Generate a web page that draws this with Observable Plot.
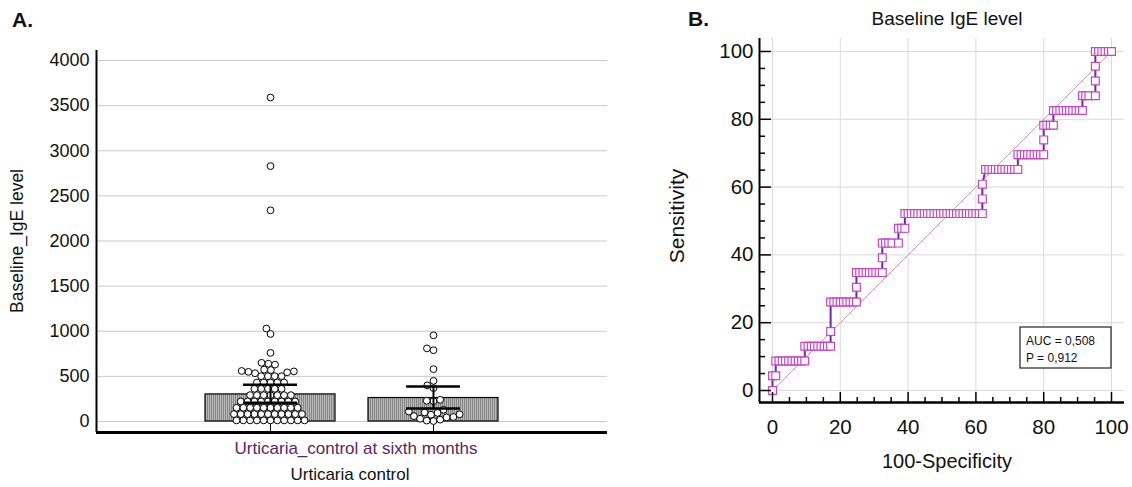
<!DOCTYPE html>
<html>
<head>
<meta charset="utf-8">
<script src="https://cdn.jsdelivr.net/npm/d3@7"></script>
<script src="https://cdn.jsdelivr.net/npm/@observablehq/plot@0.6"></script>
<style>
html,body{margin:0;padding:0;background:#fff;}
#wrap{position:relative;width:1132px;height:487px;overflow:hidden;background:#fff;}
#wrap svg{position:absolute;top:0;}
</style>
</head>
<body>
<div id="wrap"></div>
<script>
// ---------- Panel A data ----------
const groupsA = ["Controlled", "Uncontrolled"];
const igeGroup1 = [
  12, 12, 12, 12, 12, 12, 12, 12, 12, 12, 12,
  82, 82, 82, 82, 82, 82, 82, 82, 82, 82, 82,
  152, 152, 152, 152, 152, 152, 152, 152, 152, 152,
  222, 222, 222, 222, 222, 222, 222, 222, 222,
  292, 292, 292, 292, 292, 292, 292,
  362, 362, 362, 362, 362,
  432, 432, 432, 432, 432,
  502, 502, 502, 502,
  535, 545, 550, 555, 560, 570, 575,
  630, 640, 650,
  760, 970, 1030, 2340, 2830, 3590];
const igeGroup2 = [5, 10, 20, 30, 45, 50, 60, 75, 80, 95, 100, 110, 130, 225, 230, 240, 370, 400, 450, 580, 790, 810, 955];
const barMean = [300, 260];
const ciLow = [208, 145];
const ciHigh = [408, 388];
const yTicksA = [0, 500, 1000, 1500, 2000, 2500, 3000, 3500, 4000];

// ---------- Panel B data (ROC: false-positive counts per sensitivity level) ----------
const nNeg = 105, nPos = 23;
const rocTP = [0, 1, 2, 3, 4, 6, 7, 8, 9, 10, 11, 12, 13, 14, 15, 16, 17, 18, 19, 20, 21, 22, 23];
const rocFP = [
  [0],
  [0, 1],
  [1, 2, 3, 4, 5, 6, 7, 8, 9, 10],
  [10, 11, 12, 13, 14, 15, 16, 17, 18],
  [18],
  [18, 19, 20, 21, 22, 23, 24, 25, 26],
  [26],
  [26, 27, 28, 29, 30, 31, 32, 33, 34],
  [34],
  [34, 35, 36, 37, 39],
  [39, 40, 41],
  [41, 42, 43, 44, 45, 46, 47, 48, 49, 50, 51, 52, 53, 54, 55, 56, 57, 58, 59, 60, 61, 62, 63, 64, 65],
  [65],
  [65],
  [66, 67, 68, 69, 70, 71, 72, 73, 74, 75, 76],
  [76, 77, 78, 79, 80, 81, 82, 83, 84],
  [84],
  [84, 85, 86, 87],
  [87, 88, 89, 90, 91, 92, 93, 94, 95, 96],
  [96, 97, 98, 100],
  [100],
  [100],
  [100, 101, 102, 103, 104, 105]
];
const rocTicks = [0, 20, 40, 60, 80, 100];
const rocMinor = [5, 10, 15, 25, 30, 35, 45, 50, 55, 65, 70, 75, 85, 90, 95];
const chanceLine = [0, 100];
const aucLines = ["AUC = 0,508", "P = 0,912"];

// ---------- layout ----------
const H = 487;
const fontFam = "'Liberation Sans', Arial, Helvetica, sans-serif";
const W_A = 620;
const mA = {top: 50, right: 13, bottom: 55, left: 96};
const yDomA = [-122, 4111];

const dotsA = [
  ...igeGroup1.map(v => ({group: groupsA[0], value: v})),
  ...igeGroup2.map(v => ({group: groupsA[1], value: v}))
];
const barsA = groupsA.map((g, i) => ({group: g, mean: barMean[i], lo: ciLow[i], hi: ciHigh[i]}));

const wrap = document.getElementById("wrap");

const baseA = Plot.plot({
  width: W_A, height: H,
  marginTop: mA.top, marginRight: mA.right, marginBottom: mA.bottom, marginLeft: mA.left,
  style: {background: "transparent", fontFamily: fontFam, color: "black"},
  x: {domain: [0, 1], axis: null},
  y: {domain: yDomA},
  marks: [
    Plot.ruleY(yTicksA, {stroke: "#c9c9c9", strokeWidth: 1}),
    Plot.axisY({ticks: yTicksA, tickSize: 0, tickPadding: 7, fontSize: 18, label: null, tickFormat: d => String(d), fill: "#111"}),
    Plot.ruleX([0], {stroke: "black", strokeWidth: 2})
  ]
});
baseA.style.left = "0px";
wrap.appendChild(baseA);

const fgA = Plot.plot({
  width: W_A, height: H,
  marginTop: mA.top, marginRight: mA.right, marginBottom: mA.bottom, marginLeft: mA.left,
  style: {background: "transparent", fontFamily: fontFam, color: "black"},
  fx: {domain: groupsA, paddingInner: 0.2, paddingOuter: 0.66, axis: null, label: null},
  y: {domain: yDomA, axis: null},
  marks: [
    Plot.barY(barsA, {fx: "group", y: "mean", fill: "url(#hatchA)", stroke: "black", strokeWidth: 1.2}),
    Plot.ruleX(barsA, {fx: "group", x: null, y1: yDomA[0], y2: 0, stroke: "black", strokeWidth: 1}),
    Plot.dot(dotsA, Plot.dodgeX({anchor: "middle", padding: 0}, {fx: "group", y: "value", r: 3.4, fill: "white", stroke: "black", strokeWidth: 1})),
    Plot.ruleX(barsA, {fx: "group", x: null, y1: "lo", y2: "hi", stroke: "black", strokeWidth: 2}),
    Plot.tickY(barsA, {fx: "group", y: "hi", stroke: "black", strokeWidth: 2.5, insetLeft: 38, insetRight: 38}),
    Plot.tickY(barsA, {fx: "group", y: "lo", stroke: "black", strokeWidth: 2.5, insetLeft: 38, insetRight: 38})
  ]
});
{
  const defs = d3.select(fgA).insert("defs", ":first-child");
  const pat = defs.append("pattern").attr("id", "hatchA").attr("patternUnits", "userSpaceOnUse").attr("width", 2).attr("height", 2);
  pat.append("rect").attr("width", 2).attr("height", 2).attr("fill", "#bababa");
  pat.append("rect").attr("width", 1).attr("height", 2).attr("fill", "#858585");
}
fgA.style.left = "0px";
wrap.appendChild(fgA);

// bottom axis line of panel A on top
const axA = Plot.plot({
  width: W_A, height: H,
  marginTop: mA.top, marginRight: mA.right, marginBottom: mA.bottom, marginLeft: mA.left,
  style: {background: "transparent"},
  y: {domain: yDomA, axis: null},
  marks: [Plot.ruleY([yDomA[0]], {stroke: "black", strokeWidth: 3})]
});
axA.style.left = "0px";
wrap.appendChild(axA);

// ---------- Panel B ----------
const W_B = 492;
const mB = {top: 38, right: 8, bottom: 85, left: 119};
const xDomB = [-3.835, 103.835];
const yDomB = [-3.54, 103.83];
const frameWB = W_B - mB.left - mB.right;
const frameHB = H - mB.top - mB.bottom;
const roc = rocTP.flatMap((t, i) => rocFP[i].map(f => ({fpr: f / nNeg * 100, tpr: t / nPos * 100})));

const plotB = Plot.plot({
  width: W_B, height: H,
  marginTop: mB.top, marginRight: mB.right, marginBottom: mB.bottom, marginLeft: mB.left,
  style: {background: "transparent", fontFamily: fontFam, color: "black"},
  x: {domain: xDomB},
  y: {domain: yDomB},
  marks: [
    Plot.ruleX(rocTicks, {stroke: "#dadada", strokeWidth: 1}),
    Plot.ruleY(rocTicks, {stroke: "#dadada", strokeWidth: 1}),
    Plot.line(chanceLine, {x: d => d, y: d => d, stroke: "#d99ab8", strokeWidth: 1}),
    Plot.line(roc, {x: "fpr", y: "tpr", stroke: "#6b2c9b", strokeWidth: 2}),
    Plot.dot(roc, {x: "fpr", y: "tpr", symbol: "square", r: 4.4, fill: "white", stroke: "#c844c8", strokeWidth: 1.2}),
    Plot.ruleX([xDomB[0]], {stroke: "black", strokeWidth: 2}),
    Plot.ruleY([yDomB[0]], {stroke: "black", strokeWidth: 2.5}),
    Plot.tickY(rocTicks, {y: d => d, insetRight: frameWB - 12, stroke: "black", strokeWidth: 1.5}),
    Plot.tickY(rocMinor, {y: d => d, insetRight: frameWB - 6, stroke: "black", strokeWidth: 1.5}),
    Plot.tickX(rocTicks, {x: d => d, insetTop: frameHB - 10, stroke: "black", strokeWidth: 1.5}),
    Plot.tickX(rocMinor, {x: d => d, insetTop: frameHB - 5, stroke: "black", strokeWidth: 1.5}),
    Plot.axisY({ticks: rocTicks, tickSize: 0, tickPadding: 6, fontSize: 20.5, label: null, fill: "#111"}),
    Plot.axisX({ticks: rocTicks, tickSize: 0, tickPadding: 17, fontSize: 20.5, label: null, fill: "#111"})
  ]
});
plotB.style.left = "640px";
wrap.appendChild(plotB);

// ---------- text overlay ----------
const ov = d3.create("svg").attr("width", 1132).attr("height", H)
  .style("left", "0px").style("font-family", fontFam).attr("fill", "#111");
ov.append("text").attr("x", 12).attr("y", 27).attr("font-weight", "bold").attr("font-size", 21).text("A.");
ov.append("text").attr("transform", "translate(23,241) rotate(-90)").attr("text-anchor", "middle").attr("font-size", 17.5).text("Baseline_IgE level");
ov.append("text").attr("x", 356).attr("y", 454).attr("text-anchor", "middle").attr("font-size", 17).attr("fill", "#5b2463").text("Urticaria_control at sixth months");
ov.append("text").attr("x", 350).attr("y", 480).attr("text-anchor", "middle").attr("font-size", 17).text("Urticaria control");

ov.append("text").attr("x", 688).attr("y", 26).attr("font-weight", "bold").attr("font-size", 21).text("B.");
ov.append("text").attr("x", 947).attr("y", 25).attr("text-anchor", "middle").attr("font-size", 19).text("Baseline IgE level");
ov.append("text").attr("transform", "translate(684,216) rotate(-90)").attr("text-anchor", "middle").attr("font-size", 21).text("Sensitivity");
ov.append("text").attr("x", 947).attr("y", 468).attr("text-anchor", "middle").attr("font-size", 20).text("100-Specificity");
ov.append("rect").attr("x", 1020).attr("y", 327).attr("width", 91).attr("height", 41).attr("fill", "white").attr("stroke", "#222").attr("stroke-width", 1.2);
aucLines.forEach((t, i) => {
  ov.append("text").attr("x", 1026).attr("y", 345 + i * 17).attr("font-size", 12).text(t);
});
wrap.appendChild(ov.node());
</script>
</body>
</html>
